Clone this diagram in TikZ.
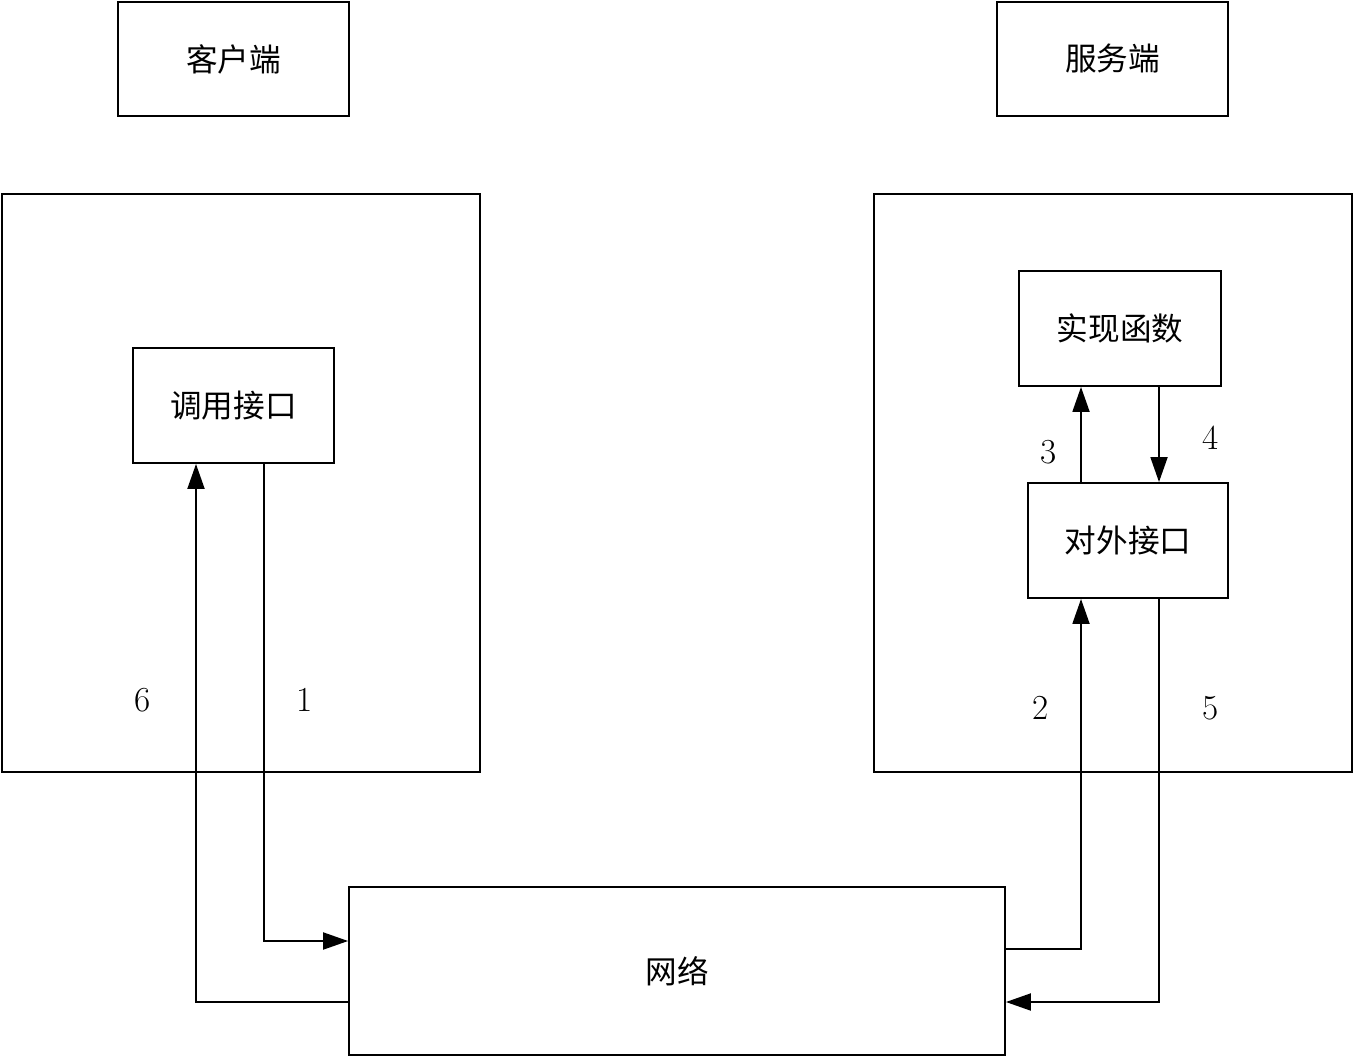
\documentclass[tikz,border=0pt]{standalone}
\usepackage{fontspec}
\newfontfamily\cjk{Noto Sans CJK SC}
\usetikzlibrary{arrows.meta}

\tikzset{
  box/.style={draw,line width=1.1pt,inner sep=0pt,font=\cjk\fontsize{18}{20}\selectfont},
  num/.style={font=\fontsize{20}{22}\selectfont},
  arr/.style={-{Triangle[length=0.5cm,width=0.34cm]},line width=1.1pt},
}

\begin{document}
\begin{tikzpicture}[x=0.02cm,y=-0.02cm]
              \useasboundingbox (0,0) rectangle (1354,1057);

              % titles
              \node[box,minimum width=4.62cm,minimum height=2.28cm] (client) at (233.5,59) {客户端};
              \node[box,minimum width=4.62cm,minimum height=2.28cm] (server) at (1112.5,59) {服务端};

              % frames
              \node[box,minimum width=9.56cm,minimum height=11.56cm] (lframe) at (241,483) {};
              \node[box,minimum width=9.56cm,minimum height=11.56cm] (rframe) at (1113,483) {};

              \node[box,minimum width=4.02cm,minimum height=2.3cm] (call) at (233.5,405.5) {调用接口};
              \node[box,minimum width=4.04cm,minimum height=2.3cm] (impl) at (1120,328.5) {实现函数};
              \node[box,minimum width=4.0cm,minimum height=2.3cm] (iface) at (1128,540.5) {对外接口};
              \node[box,minimum width=13.12cm,minimum height=3.36cm] (net) at (677,971) {网络};

              %call>net
              \draw[arr] (call.south -| 264,0) |- (net.west |- 0,941);
              %net>iface
              \draw[arr] (net.east |- 0,949) -| (iface.south -| 1081,0);
              %iface>impl
              \draw[arr] (iface.north -| 1081,0) -- (impl.south -| 1081,0);
              \draw[arr] (impl.south -| 1159,0) -- (iface.north -| 1159,0);
              %iface>net
              \draw[arr] (iface.south -| 1159,0) |- (net.east |- 0,1002);
              %net>call
              \draw[arr] (net.west |- 0,1002) -| (call.south -| 196,0);

              % step numbers
              \node[num] (l1) at (305,700) {1};
              \node[num] (l2) at (1041,708) {2};
              \node[num] (l3) at (1049,452) {3};
              \node[num] (l4) at (1211,438) {4};
              \node[num] (l5) at (1211,708) {5};
              \node[num] (l6) at (143,700) {6};
            \end{tikzpicture}
\end{document}
